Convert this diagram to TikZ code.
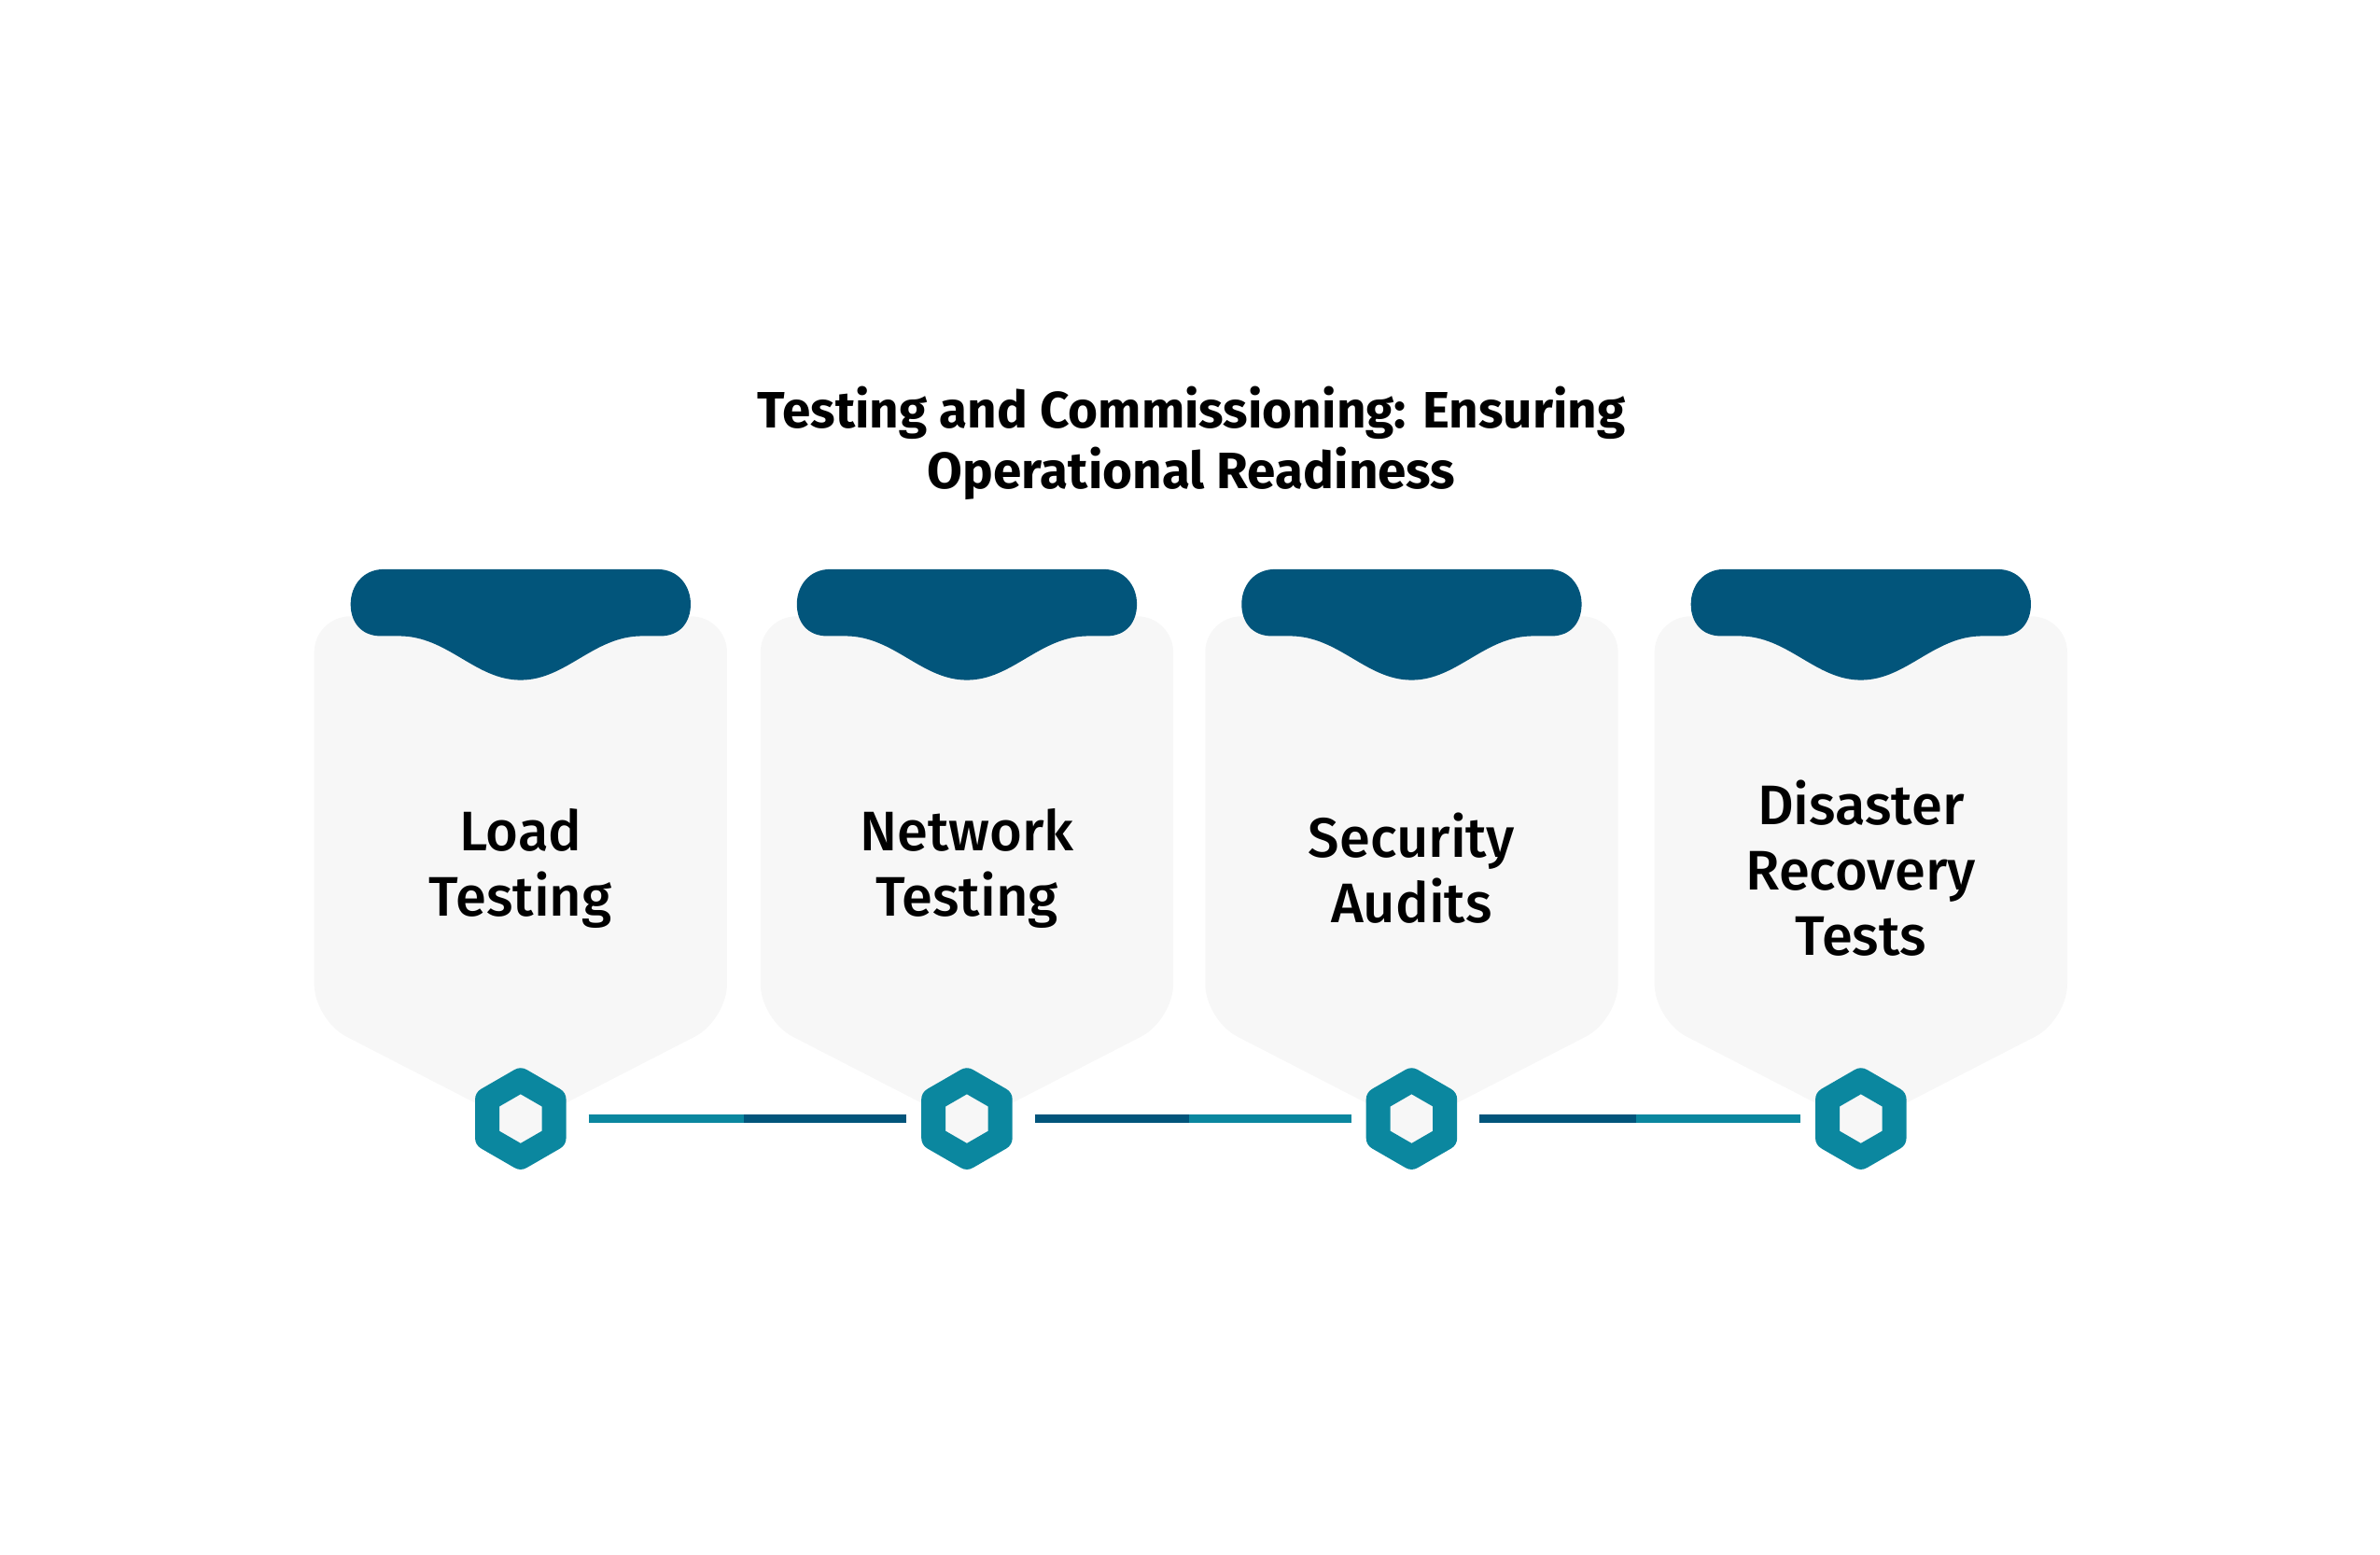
\documentclass[tikz,border=0pt]{standalone}
\usepackage{fontspec}
\setmainfont{Fira Sans}
\newfontfamily\cardfont{Fira Sans Medium}
\usetikzlibrary{shapes.geometric}

\definecolor{capblue}{HTML}{02557B}
\definecolor{hexteal}{HTML}{0B879F}
\definecolor{cardgrey}{HTML}{F7F7F7}

\begin{document}
\begin{tikzpicture}[x=0.01626cm, y=-0.01626cm,
    cardbody/.style={fill=cardgrey, rounded corners=11pt},
    cardcap/.style={fill=capblue},
    titletext/.style={font=\bfseries\fontsize{15.6}{18.5}\selectfont, align=center},
    cardtext/.style={font=\cardfont\fontsize{17}{20}\selectfont, align=center},
    hexnode/.style={regular polygon, regular polygon sides=6, shape border rotate=30,
      minimum size=0.826cm, inner sep=0pt, draw=hexteal, line width=0.26cm,
      line join=round, fill=cardgrey},
    tealline/.style={draw=hexteal, line width=0.09cm},
    blueline/.style={draw=capblue, line width=0.09cm}]

      \useasboundingbox (0,0) rectangle (1568,1024);

      % Title
      \node[titletext] (title) at (785,292) {Testing and Commissioning: Ensuring\\Operational Readiness};

      % Card bodies
      \fill[cardbody] (207,406) -- (479,406) -- (479,672) -- (343,742) -- (207,672) -- cycle;
      \fill[cardbody] (501,406) -- (773,406) -- (773,672) -- (637,742) -- (501,672) -- cycle;
      \fill[cardbody] (794,406) -- (1066,406) -- (1066,672) -- (930,742) -- (794,672) -- cycle;
      \fill[cardbody] (1090,406) -- (1362,406) -- (1362,672) -- (1226,742) -- (1090,672) -- cycle;

      % Card caps
      \fill[cardcap] (253,375) -- (433,375)
        .. controls (447,375) and (455,386) .. (455,398)
        .. controls (455,410) and (448,419) .. (435,419) -- (423,419)
        .. controls (391,419) and (373,448) .. (343,448)
        .. controls (313,448) and (295,419) .. (263,419) -- (251,419)
        .. controls (238,419) and (231,410) .. (231,398)
        .. controls (231,386) and (239,375) .. (253,375) -- cycle;
      \fill[cardcap] (547,375) -- (727,375)
        .. controls (741,375) and (749,386) .. (749,398)
        .. controls (749,410) and (742,419) .. (729,419) -- (717,419)
        .. controls (685,419) and (667,448) .. (637,448)
        .. controls (607,448) and (589,419) .. (557,419) -- (545,419)
        .. controls (532,419) and (525,410) .. (525,398)
        .. controls (525,386) and (533,375) .. (547,375) -- cycle;
      \fill[cardcap] (840,375) -- (1020,375)
        .. controls (1034,375) and (1042,386) .. (1042,398)
        .. controls (1042,410) and (1035,419) .. (1022,419) -- (1010,419)
        .. controls (978,419) and (960,448) .. (930,448)
        .. controls (900,448) and (882,419) .. (850,419) -- (838,419)
        .. controls (825,419) and (818,410) .. (818,398)
        .. controls (818,386) and (826,375) .. (840,375) -- cycle;
      \fill[cardcap] (1136,375) -- (1316,375)
        .. controls (1330,375) and (1338,386) .. (1338,398)
        .. controls (1338,410) and (1331,419) .. (1318,419) -- (1306,419)
        .. controls (1274,419) and (1256,448) .. (1226,448)
        .. controls (1196,448) and (1178,419) .. (1146,419) -- (1134,419)
        .. controls (1121,419) and (1114,410) .. (1114,398)
        .. controls (1114,386) and (1122,375) .. (1136,375) -- cycle;

      % Card labels
      \node[cardtext] (load) at (343,572) {Load\\Testing};
      \node[cardtext] (network) at (637,572) {Network\\Testing};
      \node[cardtext] (security) at (930,572) {Security\\Audits};
      \node[cardtext] (disaster) at (1226,572) {Disaster\\Recovery\\Tests};

      % Hexagon markers
      \node[hexnode] (hex1) at (343,737) {};
      \node[hexnode] (hex2) at (637,737) {};
      \node[hexnode] (hex3) at (930,737) {};
      \node[hexnode] (hex4) at (1226,737) {};

      % Connectors, each in two colours
      \path (hex1) -- (hex2) coordinate[midway] (mid12);
      \path (hex2) -- (hex3) coordinate[midway] (mid23);
      \path (hex3) -- (hex4) coordinate[midway] (mid34);
      \draw[tealline, shorten <=0.24cm] (hex1) -- (mid12);
      \draw[blueline, shorten >=0.16cm] (mid12) -- (hex2);
      \draw[blueline, shorten <=0.24cm] (hex2) -- (mid23);
      \draw[tealline, shorten >=0.16cm] (mid23) -- (hex3);
      \draw[blueline, shorten <=0.24cm] (hex3) -- (mid34);
      \draw[tealline, shorten >=0.16cm] (mid34) -- (hex4);
    \end{tikzpicture}
\end{document}
